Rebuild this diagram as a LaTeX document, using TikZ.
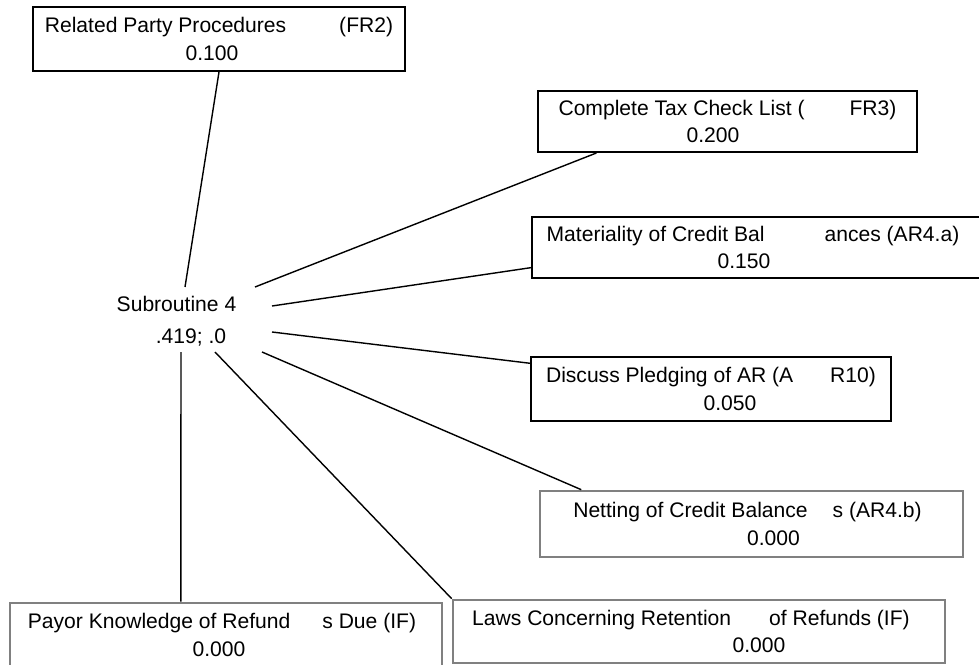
\documentclass[tikz,border=0pt]{standalone}
\usepackage{fontspec}
\setmainfont{Liberation Sans}
\usepackage{tikz}
\usetikzlibrary{calc}

\newdimen\pxu \pxu=0.02cm
\newcommand{\nudge}[2]{\kern#1\relax#2\kern-#1\relax}

\tikzset{
  factor/.style={draw, line width=1.1pt, inner sep=0pt, align=center,
    font=\fontsize{12}{15.5}\selectfont},
  zerofactor/.style={factor, draw=gray, line width=1.5pt},
  link/.style={line width=0.8pt},
}

\begin{document}
\begin{tikzpicture}[x=0.02cm, y=-0.02cm]
        \useasboundingbox (0,0) rectangle (979,665);
        \fill[white] (0,0) rectangle (979,665);

        % hub of the subroutine
        \node[align=center, font=\fontsize{12}{18}\selectfont] (hub) at (176.5,321)
            {Subroutine 4\\\nudge{14.5\pxu}{.419; .0}};
        \coordinate (hRel) at (185,287);
        \coordinate (hTax) at (255,287);
        \coordinate (hMat) at (272,306);
        \coordinate (hDis) at (272,332);
        \coordinate (hNet) at (262,352);
        \coordinate (hPay) at (181,352);
        \coordinate (hLaws) at (215,352);

        % factors
        \node[factor, minimum width=372*\pxu, minimum height=64*\pxu] (rel) at (219,39)
            {Related Party Procedures\hspace{53\pxu}(FR2)\\\nudge{-7\pxu}{0.100}};
        \node[factor, minimum width=379*\pxu, minimum height=61*\pxu] (tax) at (727.5,121.5)
            {Complete Tax Check List (\hspace{45\pxu}FR3)\\\nudge{-14.5\pxu}{0.200}};
        \node[factor, minimum width=468*\pxu, minimum height=61*\pxu] (mat) at (766,247.5)
            {\nudge{-13\pxu}{Materiality of Credit Bal\hspace{60\pxu}ances (AR4.a)}\\\nudge{-22\pxu}{0.150}};
        \node[factor, minimum width=360*\pxu, minimum height=64*\pxu] (dis) at (711,389)
            {Discuss Pledging of AR (A\hspace{37\pxu}R10)\\\nudge{19\pxu}{0.050}};
        \node[zerofactor, minimum width=423*\pxu, minimum height=66*\pxu] (net) at (751.5,524)
            {\nudge{-4\pxu}{Netting of Credit Balance\hspace{25\pxu}s (AR4.b)}\\\nudge{22\pxu}{0.000}};
        \node[zerofactor, minimum width=432*\pxu, minimum height=64*\pxu] (pay) at (226,635)
            {\nudge{-4\pxu}{Payor Knowledge of Refund\hspace{32\pxu}s Due (IF)}\\\nudge{-7\pxu}{0.000}};
        \node[zerofactor, minimum width=492*\pxu, minimum height=63*\pxu] (laws) at (699,631.5)
            {\nudge{-8\pxu}{Laws Concerning Retention\hspace{38\pxu}of Refunds (IF)}\\\nudge{60\pxu}{0.000}};

        \draw[link] (rel.south) -- (hRel);
        \draw[link] ($(tax.south west)!0.156!(tax.south east)$) -- (hTax);
        \draw[link] ($(mat.north west)!0.82!(mat.south west)$) -- (hMat);
        \draw[link] ($(dis.north west)!0.11!(dis.south west)$) -- (hDis);
        \draw[link] ($(net.north west)!0.1!(net.north east)$) -- (hNet);
        \draw[link] ($(pay.north west)!0.396!(pay.north east)$) -- (hPay);
        \draw[link] (laws.north west) -- (hLaws);
    \end{tikzpicture}
\end{document}
